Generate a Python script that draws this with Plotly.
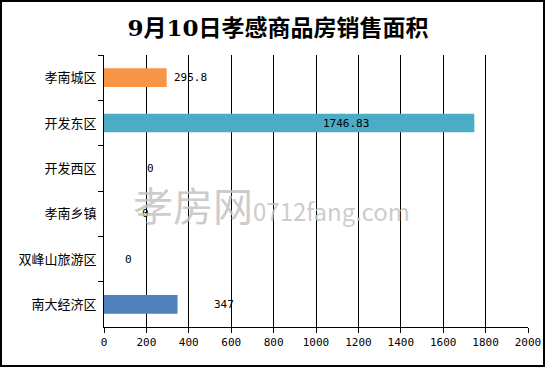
import plotly.graph_objects as go

categories = ["孝南城区", "开发东区", "开发西区", "孝南乡镇", "双峰山旅游区", "南大经济区"]
values = [295.8, 1746.83, 0, 0, 0, 347]
value_labels = ["295.8", "1746.83", "0", "0", "0", "347"]
bar_colors = ["#F79646", "#4BACC6", "#4BACC6", "#4BACC6", "#4BACC6", "#4F81BD"]
# label anchor positions (data units) as placed in the original chart
label_x = [410, 1140, 220, 195, 115, 564]
x_ticks = [0, 200, 400, 600, 800, 1000, 1200, 1400, 1600, 1800, 2000]

W, H = 546, 369
ml, mr, mt, mb = 104, 18, 55, 42
pw, ph = W - ml - mr, H - mt - mb

fig = go.Figure(go.Bar(
    y=categories, x=values, orientation="h",
    marker=dict(color=bar_colors, line=dict(width=0)),
    width=0.41, hoverinfo="skip",
))

for c, xl, t in zip(categories, label_x, value_labels):
    fig.add_annotation(x=xl, y=c, text=t, showarrow=False, xanchor="center",
                       font=dict(family="DejaVu Sans Mono", size=11, color="#000"))

fig.add_annotation(
    xref="paper", yref="paper", x=(131 - ml) / pw, y=1 - (204 - mt) / ph,
    xanchor="left", yanchor="middle", showarrow=False,
    text="<span style='font-size:40px'>孝房网</span><span style='font-size:24px'>0712fang.com</span>",
    font=dict(family="Noto Sans CJK SC", color="rgba(195,195,195,0.85)", size=24),
)

fig.add_shape(type="rect", xref="paper", yref="paper",
              x0=(1 - ml) / pw, x1=(544 - ml) / pw,
              y0=1 + (mt - 1) / ph, y1=-(366 - mt - ph) / ph,
              line=dict(color="#000", width=2), fillcolor="rgba(0,0,0,0)", layer="above")

fig.update_layout(
    width=W, height=H,
    margin=dict(l=ml, r=mr, t=mt, b=mb, autoexpand=False),
    paper_bgcolor="white", plot_bgcolor="white",
    showlegend=False,
    title=dict(text="<b>9月10日孝感商品房销售面积</b>", x=278 / W, xref="container", xanchor="center",
               y=1 - 28 / H, yanchor="middle",
               font=dict(family="DejaVu Serif, Noto Sans CJK SC", size=23, color="#000")),
    xaxis=dict(range=[0, 2000], tickvals=x_ticks, showgrid=True, gridcolor="#000", gridwidth=1,
               ticks="outside", ticklen=5, tickcolor="#000", showline=True, linecolor="#000",
               linewidth=1, zeroline=False, mirror=False, automargin=False,
               tickfont=dict(family="DejaVu Sans Mono", size=11, color="#000"), fixedrange=True),
    yaxis=dict(autorange="reversed", type="category", tickson="boundaries", ticks="outside",
               ticklen=5, tickcolor="#000", showline=True, linecolor="#000", linewidth=1,
               showgrid=False, automargin=False,
               tickfont=dict(family="Noto Sans CJK SC", size=13, color="#000"),
               ticklabelstandoff=4, fixedrange=True),
    bargap=0.6,
)

fig.write_html("out.html", config={"displayModeBar": False},
               post_script="document.body.style.margin='0';document.body.style.overflow='hidden';")
